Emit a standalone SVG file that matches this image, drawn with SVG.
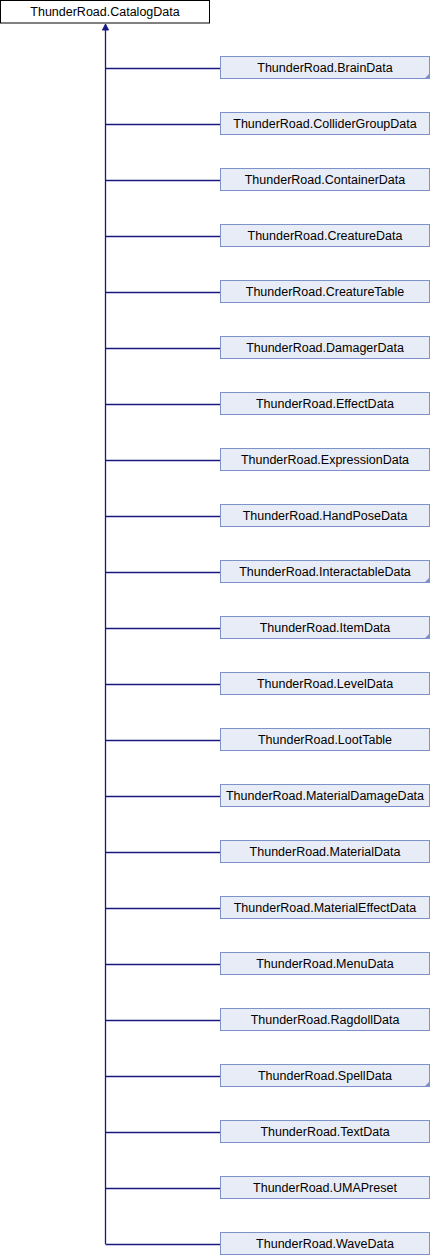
<svg xmlns="http://www.w3.org/2000/svg" width="430" height="1256" viewBox="0 0 430 1256">
<style>
.bg{fill:#ffffff}
.base rect{fill:#ffffff;stroke:#000000;stroke-width:1}
.node rect{fill:#e8ecf6;stroke:#7b93c8;stroke-width:1}
.node polygon{fill:#7b93c8}
text{font-family:"Liberation Sans",Arial,sans-serif;font-size:12.5px;fill:#000000;text-anchor:middle}
.edges path{fill:none;stroke:#191980;stroke-width:1.3}
.arrow{fill:#191980;stroke:#191980;stroke-width:1}
</style>
<rect class="bg" x="0" y="0" width="430" height="1256"/>
<g id="edges" class="edges">
<path d="M105.5,29V1244"/>
<path d="M105.5,68.5H220M105.5,124.5H220M105.5,180.5H220M105.5,236.5H220M105.5,292.5H220M105.5,348.5H220M105.5,404.5H220M105.5,460.5H220M105.5,516.5H220M105.5,572.5H220M105.5,628.5H220M105.5,684.5H220M105.5,740.5H220M105.5,796.5H220M105.5,852.5H220M105.5,908.5H220M105.5,964.5H220M105.5,1020.5H220M105.5,1076.5H220M105.5,1132.5H220M105.5,1188.5H220M105.5,1244.5H220"/>
<polygon class="arrow" points="105.5,24 108.5,30 102.5,30"/>
</g>
<g id="CatalogData" class="base"><rect x="0.5" y="0.5" width="209" height="22.5"/><text x="105" y="16">ThunderRoad.CatalogData</text></g>
<g id="BrainData" class="node"><rect x="220.5" y="56.5" width="209" height="22"/><polygon points="424,79 429.5,79 429.5,73.5"/><text x="325" y="72">ThunderRoad.BrainData</text></g>
<g id="ColliderGroupData" class="node"><rect x="220.5" y="112.5" width="209" height="22"/><text x="325" y="128">ThunderRoad.ColliderGroupData</text></g>
<g id="ContainerData" class="node"><rect x="220.5" y="168.5" width="209" height="22"/><text x="325" y="184">ThunderRoad.ContainerData</text></g>
<g id="CreatureData" class="node"><rect x="220.5" y="224.5" width="209" height="22"/><text x="325" y="240">ThunderRoad.CreatureData</text></g>
<g id="CreatureTable" class="node"><rect x="220.5" y="280.5" width="209" height="22"/><text x="325" y="296">ThunderRoad.CreatureTable</text></g>
<g id="DamagerData" class="node"><rect x="220.5" y="336.5" width="209" height="22"/><text x="325" y="352">ThunderRoad.DamagerData</text></g>
<g id="EffectData" class="node"><rect x="220.5" y="392.5" width="209" height="22"/><text x="325" y="408">ThunderRoad.EffectData</text></g>
<g id="ExpressionData" class="node"><rect x="220.5" y="448.5" width="209" height="22"/><text x="325" y="464">ThunderRoad.ExpressionData</text></g>
<g id="HandPoseData" class="node"><rect x="220.5" y="504.5" width="209" height="22"/><text x="325" y="520">ThunderRoad.HandPoseData</text></g>
<g id="InteractableData" class="node"><rect x="220.5" y="560.5" width="209" height="22"/><polygon points="424,583 429.5,583 429.5,577.5"/><text x="325" y="576">ThunderRoad.InteractableData</text></g>
<g id="ItemData" class="node"><rect x="220.5" y="616.5" width="209" height="22"/><polygon points="424,639 429.5,639 429.5,633.5"/><text x="325" y="632">ThunderRoad.ItemData</text></g>
<g id="LevelData" class="node"><rect x="220.5" y="672.5" width="209" height="22"/><text x="325" y="688">ThunderRoad.LevelData</text></g>
<g id="LootTable" class="node"><rect x="220.5" y="728.5" width="209" height="22"/><text x="325" y="744">ThunderRoad.LootTable</text></g>
<g id="MaterialDamageData" class="node"><rect x="220.5" y="784.5" width="209" height="22"/><text x="325" y="800">ThunderRoad.MaterialDamageData</text></g>
<g id="MaterialData" class="node"><rect x="220.5" y="840.5" width="209" height="22"/><text x="325" y="856">ThunderRoad.MaterialData</text></g>
<g id="MaterialEffectData" class="node"><rect x="220.5" y="896.5" width="209" height="22"/><text x="325" y="912">ThunderRoad.MaterialEffectData</text></g>
<g id="MenuData" class="node"><rect x="220.5" y="952.5" width="209" height="22"/><text x="325" y="968">ThunderRoad.MenuData</text></g>
<g id="RagdollData" class="node"><rect x="220.5" y="1008.5" width="209" height="22"/><text x="325" y="1024">ThunderRoad.RagdollData</text></g>
<g id="SpellData" class="node"><rect x="220.5" y="1064.5" width="209" height="22"/><polygon points="424,1087 429.5,1087 429.5,1081.5"/><text x="325" y="1080">ThunderRoad.SpellData</text></g>
<g id="TextData" class="node"><rect x="220.5" y="1120.5" width="209" height="22"/><text x="325" y="1136">ThunderRoad.TextData</text></g>
<g id="UMAPreset" class="node"><rect x="220.5" y="1176.5" width="209" height="22"/><text x="325" y="1192">ThunderRoad.UMAPreset</text></g>
<g id="WaveData" class="node"><rect x="220.5" y="1232.5" width="209" height="22"/><text x="325" y="1248">ThunderRoad.WaveData</text></g>
</svg>
